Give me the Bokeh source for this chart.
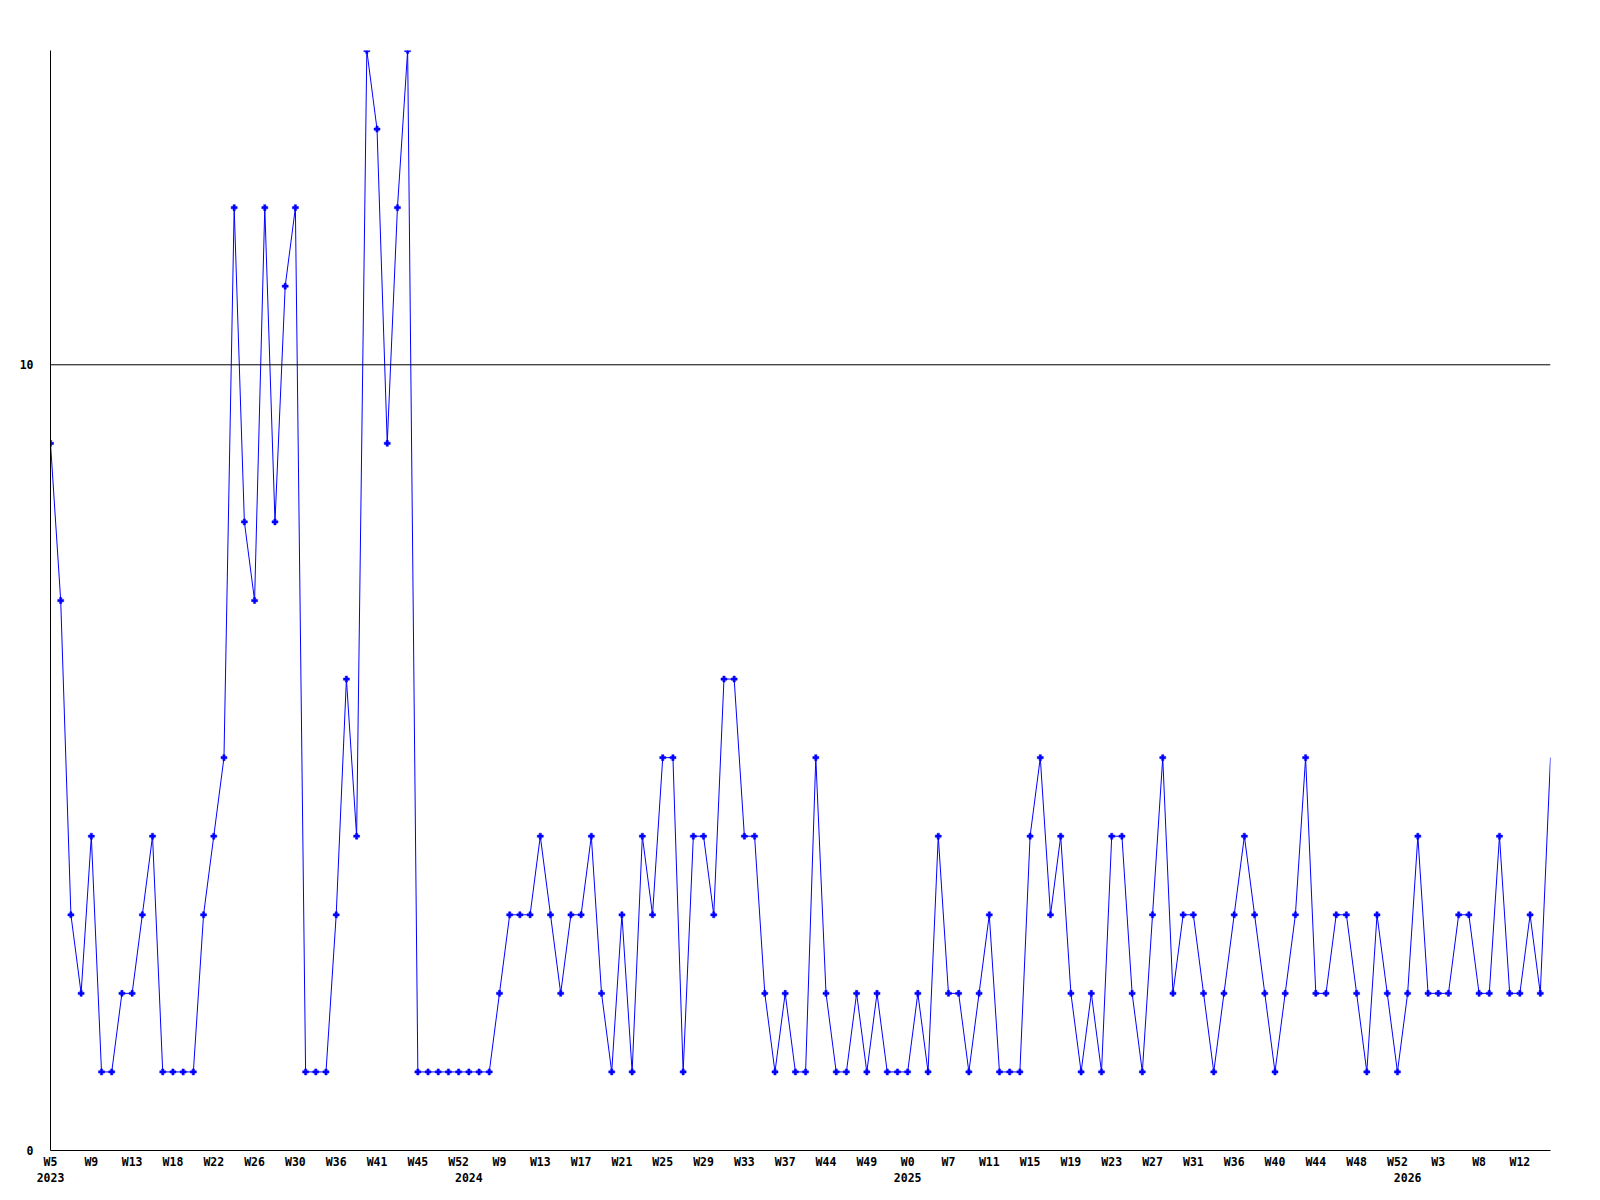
from bokeh.plotting import figure
from bokeh.models import Range1d, LinearAxis, FixedTicker, Span, ColumnDataSource
from bokeh.embed import file_html
from bokeh.resources import INLINE

# Weekly counts, one per plotted week (2023 W5 .. 2026 W13)
values = [9, 7, 3, 2, 4, 1, 1, 2, 2, 3, 4, 1, 1, 1, 1, 3, 4, 5, 12, 8,
          7, 12, 8, 11, 12, 1, 1, 1, 3, 6, 4, 14, 13, 9, 12, 14, 1, 1, 1, 1,
          1, 1, 1, 1, 2, 3, 3, 3, 4, 3, 2, 3, 3, 4, 2, 1, 3, 1, 4, 3,
          5, 5, 1, 4, 4, 3, 6, 6, 4, 4, 2, 1, 2, 1, 1, 5, 2, 1, 1, 2,
          1, 2, 1, 1, 1, 2, 1, 4, 2, 2, 1, 2, 3, 1, 1, 1, 4, 5, 3, 4,
          2, 1, 2, 1, 4, 4, 2, 1, 3, 5, 2, 3, 3, 2, 1, 2, 3, 4, 3, 2,
          1, 2, 3, 5, 2, 2, 3, 3, 2, 1, 3, 2, 1, 2, 4, 2, 2, 2, 3, 3,
          2, 2, 4, 2, 2, 3, 2, 5]

# Week tick labels (every 4th point)
week_labels = ["W5", "W9", "W13", "W18", "W22", "W26", "W30", "W36", "W41", "W45",
               "W52", "W9", "W13", "W17", "W21", "W25", "W29", "W33", "W37", "W44",
               "W49", "W0", "W7", "W11", "W15", "W19", "W23", "W27", "W31", "W36",
               "W40", "W44", "W48", "W52", "W3", "W8", "W12"]
week_label_index = list(range(0, 4 * len(week_labels), 4))

# Year labels at the first plotted week of each year
year_labels = ["2023", "2024", "2025", "2026"]
year_label_index = [0, 41, 84, 133]

y_ticks = [0, 10]
threshold = 10

x = list(range(len(values)))
src = ColumnDataSource(dict(x=x, y=values))
src_marks = ColumnDataSource(dict(x=x[:-1], y=values[:-1]))

FONT = "DejaVu Sans Mono"

p = figure(width=1590, height=1195, output_backend="svg", toolbar_location=None,
           x_range=Range1d(0, len(values) - 1), y_range=Range1d(0, 14),
           x_axis_location=None, y_axis_location=None,
           min_border_left=50, min_border_top=50, min_border_right=40,
           min_border_bottom=45)
p.outline_line_color = None
p.xgrid.visible = False
p.ygrid.visible = False
p.background_fill_color = "white"
p.border_fill_color = "white"


def style_axis(ax, standoff, line=True):
    ax.major_tick_line_color = None
    ax.minor_tick_line_color = None
    ax.major_tick_out = 0
    ax.major_tick_in = 0
    ax.minor_tick_out = 0
    ax.axis_line_color = "black" if line else None
    ax.axis_line_width = 1
    ax.major_label_standoff = standoff
    ax.major_label_text_font = FONT
    ax.major_label_text_font_style = "bold"
    ax.major_label_text_font_size = "11.5px"
    ax.major_label_text_color = "black"


yax = LinearAxis(ticker=FixedTicker(ticks=y_ticks))
style_axis(yax, 17)
p.add_layout(yax, "left")

xax = LinearAxis(ticker=FixedTicker(ticks=week_label_index),
                 major_label_overrides={i: l for i, l in zip(week_label_index, week_labels)})
style_axis(xax, 4)
p.add_layout(xax, "below")

yrax = LinearAxis(ticker=FixedTicker(ticks=year_label_index),
                  major_label_overrides={i: l for i, l in zip(year_label_index, year_labels)})
style_axis(yrax, 1, line=False)
p.add_layout(yrax, "below")

p.add_layout(Span(location=threshold, dimension="width", line_color="black", line_width=1))

p.line("x", "y", source=src, line_color="#0000ff", line_width=1)
p.scatter("x", "y", source=src_marks, marker="plus", size=6,
          fill_color="#0000ff", line_color="#0000ff", line_width=0.5)

open("out.html", "w").write(file_html(p, INLINE))
